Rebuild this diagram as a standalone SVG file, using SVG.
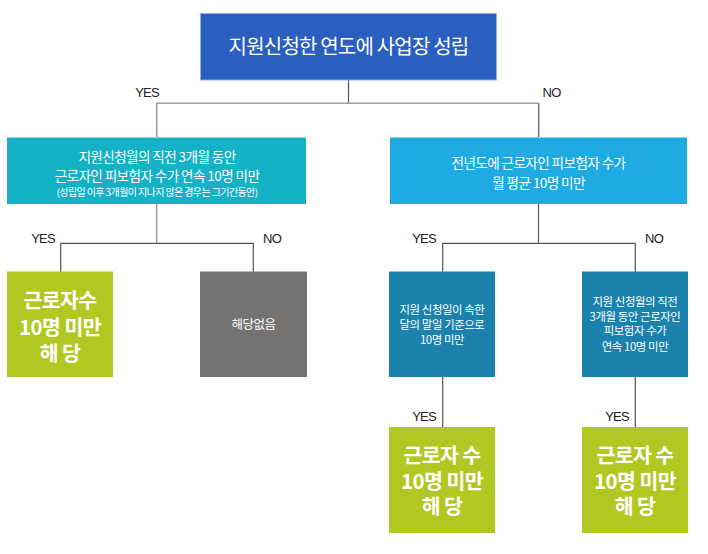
<svg xmlns="http://www.w3.org/2000/svg" width="708" height="554" viewBox="0 0 708 554">
<style>
text{font-family:"Noto Sans CJK KR","Noto Sans",sans-serif;fill:#fff;text-anchor:middle}
.lbl{font-family:"Liberation Sans",Arial,sans-serif;fill:#222;font-size:13px;letter-spacing:-0.8px}
.big{font-size:20.5px;font-weight:bold;letter-spacing:-0.6px}
.mid{font-size:11.4px;letter-spacing:-0.4px}
.c1{stroke:#9c9c9c;stroke-width:1.5;fill:none}
.c2{stroke:#555;stroke-width:1.2;fill:none}
</style>
<rect width="708" height="554" fill="#fff"/>
<g id="connectors">
<path class="c2" d="M348.5 80V103"/>
<path class="c1" d="M156.7 137V103.3H538.7"/>
<path class="c2" d="M538.7 103.3V137"/>
<path class="c1" d="M156.7 204V243"/>
<path class="c2" d="M60.7 272V243.3H253.3V272"/>
<path class="c2" d="M538.5 204V243.3"/>
<path class="c2" d="M442.7 272V243.3H635.3V272"/>
<path class="c2" d="M442.7 377V427"/>
<path class="c2" d="M635.3 377V427"/>
</g>
<g id="labels">
<text class="lbl" x="147" y="97">YES</text>
<text class="lbl" x="551.5" y="97">NO</text>
<text class="lbl" x="43" y="243">YES</text>
<text class="lbl" x="272" y="243">NO</text>
<text class="lbl" x="424" y="243">YES</text>
<text class="lbl" x="654" y="243">NO</text>
<text class="lbl" x="424" y="421">YES</text>
<text class="lbl" x="617" y="421">YES</text>
</g>
<g id="n-root">
<rect x="200.5" y="13.5" width="296" height="66.5" fill="#2b5fbf" stroke="#8fb0e6" stroke-width="1"/>
<text x="348.5" y="53.5" font-size="20" letter-spacing="-0.8">지원신청한 연도에 사업장 성립</text>
</g>
<g id="n-left">
<rect x="7" y="137.5" width="299" height="66.5" fill="#15b2c7"/>
<text x="157" y="162" font-size="13.6" letter-spacing="-0.6">지원신청월의 직전 3개월 동안</text>
<text x="157" y="181" font-size="13.6" letter-spacing="-0.6">근로자인 피보험자 수가 연속 10명 미만</text>
<text x="157" y="195.5" font-size="10" letter-spacing="-0.6">(성립일 이후 3개월이 지나지 않은 경우는 그기간동안)</text>
</g>
<g id="n-right">
<rect x="390" y="137.5" width="297" height="66.5" fill="#1eaae2"/>
<text x="538.5" y="168" font-size="13.6" letter-spacing="-0.6">전년도에 근로자인 피보험자 수가</text>
<text x="538.5" y="188" font-size="13.6" letter-spacing="-0.6">월 평균 10명 미만</text>
</g>
<g id="n-yes1">
<rect x="7" y="271.5" width="106" height="105.5" fill="#b1c823"/>
<text class="big" x="60" y="308">근로자수</text>
<text class="big" x="60" y="335">10명 미만</text>
<text class="big" x="60" y="361">해 당</text>
</g>
<g id="n-none">
<rect x="200" y="271.5" width="107" height="105.5" fill="#757272"/>
<text x="253.5" y="328.5" font-size="12.5" letter-spacing="-0.5">해당없음</text>
</g>
<g id="n-mid1">
<rect x="389" y="271.5" width="106" height="105.5" fill="#1b82ae"/>
<text class="mid" x="442" y="314">지원 신청일이 속한</text>
<text class="mid" x="442" y="329">달의 말일 기준으로</text>
<text class="mid" x="442" y="344">10명 미만</text>
</g>
<g id="n-mid2">
<rect x="582" y="271.5" width="106" height="105.5" fill="#1b82ae"/>
<text class="mid" x="635" y="305.5">지원 신청월의 직전</text>
<text class="mid" x="635" y="320.5">3개월 동안 근로자인</text>
<text class="mid" x="635" y="335">피보험자 수가</text>
<text class="mid" x="635" y="350.5">연속 10명 미만</text>
</g>
<g id="n-yes2">
<rect x="389" y="427" width="106" height="106" fill="#b1c823"/>
<text class="big" x="442" y="463">근로자 수</text>
<text class="big" x="442" y="489">10명 미만</text>
<text class="big" x="442" y="514">해 당</text>
</g>
<g id="n-yes3">
<rect x="582" y="427" width="106" height="106" fill="#b1c823"/>
<text class="big" x="635" y="463">근로자 수</text>
<text class="big" x="635" y="489">10명 미만</text>
<text class="big" x="635" y="514">해 당</text>
</g>
</svg>
